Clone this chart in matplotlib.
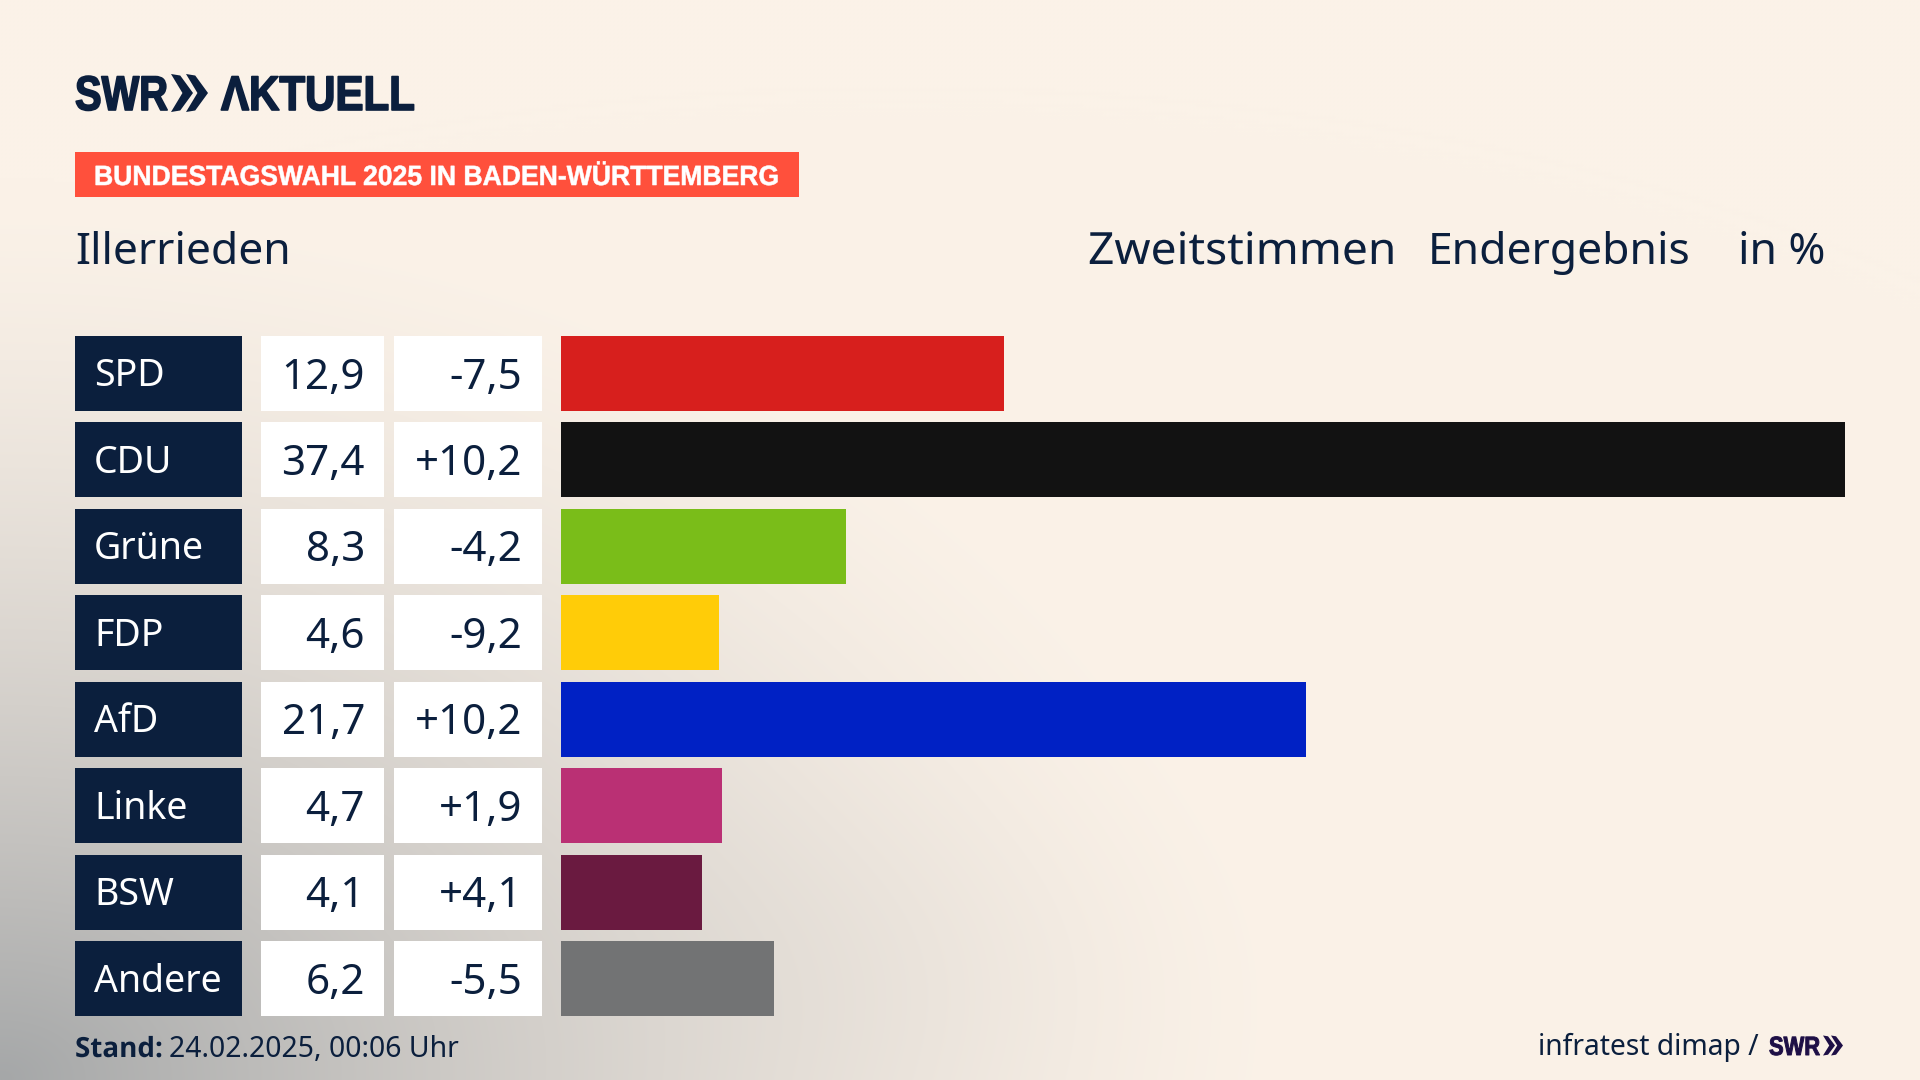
import numpy as np
import matplotlib
matplotlib.use("Agg")
import matplotlib.pyplot as plt
from matplotlib.patches import Polygon, Rectangle
from matplotlib.patheffects import AbstractPathEffect
from matplotlib.transforms import Affine2D

parties = ["SPD", "CDU", "Grüne", "FDP", "AfD", "Linke", "BSW", "Andere"]
shares = [12.9, 37.4, 8.3, 4.6, 21.7, 4.7, 4.1, 6.2]
share_labels = ["12,9", "37,4", "8,3", "4,6", "21,7", "4,7", "4,1", "6,2"]
diff_labels = ["-7,5", "+10,2", "-4,2", "-9,2", "+10,2", "+1,9", "+4,1", "-5,5"]
colors = ["#D71F1D", "#121212", "#7ABD19", "#FFCC08", "#0021C4", "#BA3074", "#6A1A40", "#727374"]

NAVY = "#0B1F3D"
FONT = "Noto Sans"
BOLD = "Liberation Sans"
W, H = 1920, 1080
fig = plt.figure(figsize=(19.2, 10.8), dpi=100)


class Squeeze(AbstractPathEffect):
    """Scale a text horizontally around a pixel anchor, keeping it real text."""
    def __init__(self, sx, x0, stroke=0):
        super().__init__()
        self.sx, self.x0, self.stroke = sx, x0, stroke

    def draw_path(self, renderer, gc, tpath, affine, rgbFace=None):
        a = affine + Affine2D().translate(-self.x0, 0).scale(self.sx, 1).translate(self.x0, 0)
        if self.stroke:
            g = renderer.new_gc()
            g.copy_properties(gc)
            g.set_linewidth(self.stroke)
            g.set_foreground(rgbFace)
            renderer.draw_path(g, tpath, a, rgbFace)
            g.restore()
        else:
            renderer.draw_path(gc, tpath, a, rgbFace)


bg = fig.add_axes([0, 0, 1, 1])
bg.set_xlim(0, W); bg.set_ylim(H, 0); bg.axis("off")
yy, xx = np.mgrid[0:H:270j, 0:W:480j]
cream = np.array([251, 242, 232.]) / 255
dark = np.array([165, 167, 168.]) / 255
d = np.sqrt((xx / 1300) ** 2 + ((H - yy) / 900) ** 2)
a = np.clip(1 - d, 0, 1) ** 1.47
blob = 0.035 * np.exp(-((xx - 900) / 280) ** 2 - ((yy - 960) / 150) ** 2)
a = np.clip(a + blob, 0, 1)
img = cream[None, None, :] * (1 - a[..., None]) + dark[None, None, :] * a[..., None]
bg.imshow(img, extent=(0, W, H, 0), aspect="auto", interpolation="bilinear", zorder=0)


def T(x, y, s, size, color=NAVY, ha="left", weight="normal", family=FONT, sx=None, stroke=0):
    t = bg.text(x, y, s, fontsize=size, color=color, ha=ha, va="baseline",
                fontweight=weight, family=family, zorder=5)
    if sx is not None:
        t.set_path_effects([Squeeze(sx, x, stroke)])
    return t


def chevrons(x, yc, h, w, gap, color):
    for i in range(2):
        x0 = x + i * gap
        bg.add_patch(Polygon([(x0, yc - h / 2), (x0 + w * 0.42, yc - h / 2 + h * 0.04), (x0 + w, yc),
                              (x0 + w * 0.42, yc + h / 2 - h * 0.04), (x0, yc + h / 2), (x0 + w * 0.52, yc)],
                             closed=True, fc=color, ec="none", zorder=5))


# logo
T(75, 110, "SWR", 35, weight="bold", family=BOLD, sx=0.82, stroke=1.2)
chevrons(171, 93, 38, 22, 15, NAVY)
T(221, 110, "ΛKTUELL", 35, weight="bold", family=BOLD, sx=0.865, stroke=1.2)

# banner
bg.add_patch(Rectangle((75, 152), 724, 45, fc="#FF503C", ec="none", zorder=2))
T(94, 185, "BUNDESTAGSWAHL 2025 IN BADEN-WÜRTTEMBERG", 20, color="white", weight="bold",
  family=BOLD, sx=0.956, stroke=0.4)

# headers
T(75, 264, "Illerrieden", 32)
T(1088, 264, "Zweitstimmen", 32, sx=1.037)
T(1428, 264, "Endergebnis", 32)
T(1738, 264, "in %", 32)

# table + bars share the row scale
top, bottom = 336, 1016
n = len(parties)
hgt = 0.866
pad = hgt / 2


def axes_for(x0, x1):
    ax = fig.add_axes([x0 / W, 1 - bottom / H, (x1 - x0) / W, (bottom - top) / H])
    ax.set_ylim(n - 1 + pad, -pad)
    ax.axis("off")
    ax.patch.set_alpha(0)
    return ax


rows = np.arange(n)
ax_bar = axes_for(561, 1845)
ax_bar.set_xlim(0, max(shares))
ax_bar.barh(rows, shares, height=hgt, color=colors)

ax_t = axes_for(75, 542)
ax_t.set_xlim(75, 542)
ax_t.barh(rows, [167] * n, left=75, height=hgt, color=NAVY)
ax_t.barh(rows, [123] * n, left=261, height=hgt, color="white")
ax_t.barh(rows, [148] * n, left=394, height=hgt, color="white")
for i in rows:
    ax_t.text(94, i + 0.15, parties[i], fontsize=27, color="white", va="baseline", family=FONT)
    ax_t.text(365, i + 0.175, share_labels[i], fontsize=30.3, color=NAVY, va="baseline", ha="right", family=FONT)
    ax_t.text(522, i + 0.175, diff_labels[i], fontsize=30.3, color=NAVY, va="baseline", ha="right", family=FONT)

# footer
T(75, 1057, "Stand:", 20, weight="bold", family="Open Sans", sx=1.0)
T(169, 1057, "24.02.2025, 00:06 Uhr", 20.4)
T(1538, 1055, "infratest dimap /", 20.3)
T(1769, 1055, "SWR", 19, color="#1E0F46", weight="bold", family=BOLD, sx=0.83, stroke=0.7)
chevrons(1823, 1045.5, 20, 12, 8, "#1E0F46")

fig.savefig("out.png", dpi=100)
